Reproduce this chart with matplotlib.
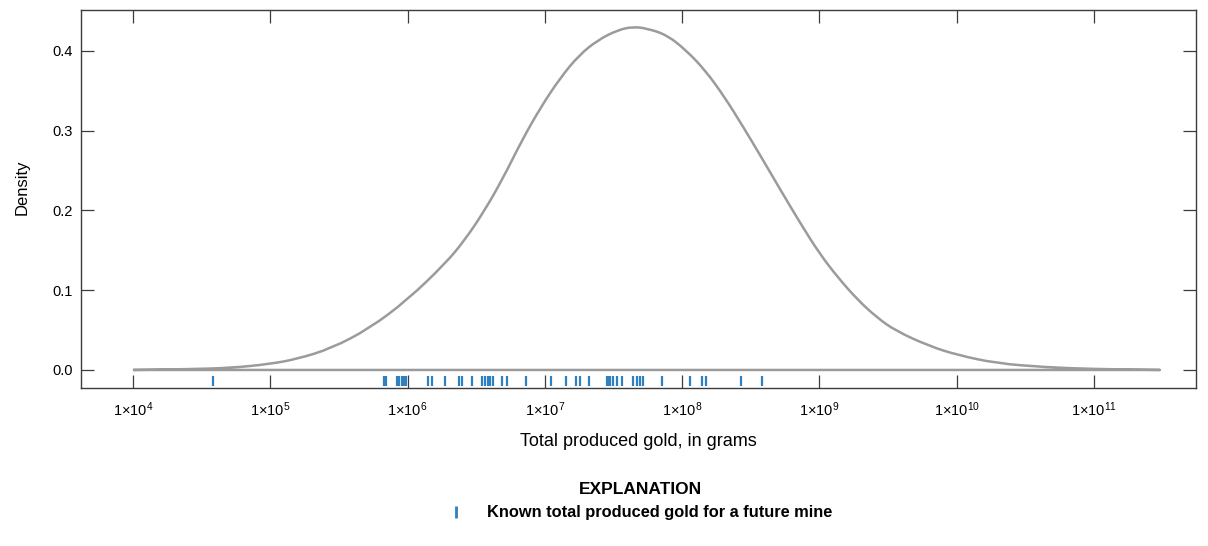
import numpy as np
import matplotlib
matplotlib.use('Agg')
import matplotlib.pyplot as plt
from matplotlib.lines import Line2D
from matplotlib.path import Path
from matplotlib.patches import PathPatch
from matplotlib.ticker import FixedLocator, NullLocator, FuncFormatter

# density curve of total produced gold (log10 grams, density)
curveLog10 = [4.00, 4.40, 4.71, 5.00, 5.20, 5.444, 5.722, 6.000, 6.278, 6.417,
              6.556, 6.694, 6.833, 6.972, 7.111, 7.250, 7.389, 7.528, 7.639,
              7.750, 7.889, 8.028, 8.167, 8.306, 8.444, 8.583, 8.722, 8.861,
              9.000, 9.139, 9.278, 9.417, 9.556, 9.80, 10.00, 10.29, 10.65,
              10.99, 11.48]
curveDensity = [0.0, 0.001, 0.0025, 0.0075, 0.014, 0.027, 0.052, 0.088, 0.134, 0.163,
                0.1985, 0.240, 0.288, 0.330, 0.366, 0.395, 0.414, 0.426, 0.4305,
                0.428, 0.420, 0.401, 0.376, 0.343, 0.305, 0.265, 0.224, 0.184,
                0.146, 0.115, 0.088, 0.066, 0.049, 0.030, 0.019, 0.0083, 0.0034,
                0.0012, 0.0]

# known total produced gold, in grams (log10)
knownLog10 = [4.585, 5.828, 5.843, 5.925, 5.940, 5.957, 5.974, 5.988, 6.151, 6.176,
              6.272, 6.374, 6.394, 6.467, 6.540, 6.564, 6.588, 6.600, 6.624, 6.685,
              6.722, 6.862, 7.044, 7.154, 7.227, 7.256, 7.323, 7.450, 7.462, 7.474,
              7.494, 7.523, 7.559, 7.639, 7.669, 7.693, 7.717, 7.851, 8.057, 8.142,
              8.173, 8.426, 8.579]

xTickExp = [4, 5, 6, 7, 8, 9, 10, 11]
yTicks = [0.0, 0.1, 0.2, 0.3, 0.4]

curveColor = '#9b9b9b'
rugColor = '#2f80c0'
frameColor = '#3c3c3c'


def smoothOutline(xs, ys):
    # quadratic bezier through the midpoints, using the points as controls;
    # x midpoints are geometric since the axis is logarithmic
    verts = [(xs[0], ys[0])]
    codes = [Path.MOVETO]
    mids = [(np.sqrt(xs[i] * xs[i + 1]), 0.5 * (ys[i] + ys[i + 1])) for i in range(len(xs) - 1)]
    verts.append(mids[0])
    codes.append(Path.LINETO)
    for i in range(1, len(xs) - 1):
        verts += [(xs[i], ys[i]), mids[i]]
        codes += [Path.CURVE3, Path.CURVE3]
    verts.append((xs[-1], ys[-1]))
    codes.append(Path.LINETO)
    # back along the zero line
    verts.append((xs[0], 0.0))
    codes.append(Path.LINETO)
    return Path(verts, codes)


plt.rcParams['font.family'] = ['Liberation Sans', 'DejaVu Sans']
plt.rcParams['mathtext.fontset'] = 'custom'
plt.rcParams['mathtext.rm'] = 'Liberation Sans'
plt.rcParams['mathtext.it'] = 'Liberation Sans'

fig = plt.figure(figsize=(12.08, 5.46), dpi=100)
ax = fig.add_axes([0.067, 0.2894, 0.923, 0.6923])

xCurve = np.power(10.0, curveLog10)
ax.add_patch(PathPatch(smoothOutline(xCurve, curveDensity), fill=False,
                       edgecolor=curveColor, lw=1.8, joinstyle='round'))

xKnown = np.power(10.0, knownLog10)
ax.vlines(xKnown, 0.005, 0.032, transform=ax.get_xaxis_transform(),
          color=rugColor, lw=1.6)

ax.set_xscale('log')
ax.set_xlim(10 ** 3.621, 10 ** 11.742)
ax.set_ylim(-0.0226, 0.4514)

ax.xaxis.set_major_locator(FixedLocator([10.0 ** e for e in xTickExp]))
ax.xaxis.set_minor_locator(NullLocator())
ax.xaxis.set_major_formatter(FuncFormatter(
    lambda v, pos: r'$\mathregular{1{\times}10^{%d}}$' % int(round(np.log10(v)))))
ax.set_yticks(yTicks)
ax.yaxis.set_major_formatter(FuncFormatter(lambda v, pos: '%.1f' % v))

ax.tick_params(axis='both', which='major', direction='in', length=9.5, width=0.9,
               color=frameColor, labelsize=10.5, top=True, right=True)
ax.tick_params(axis='x', pad=9)
ax.tick_params(axis='y', pad=6)
for s in ax.spines.values():
    s.set_color(frameColor)
    s.set_linewidth(1.0)

ax.set_xlabel('Total produced gold, in grams', fontsize=13, labelpad=10)
ax.set_ylabel('Density', fontsize=12)
ax.yaxis.set_label_coords(-0.046, 0.53)

handle = Line2D([], [], color=rugColor, marker='|', linestyle='None',
                markersize=8, markeredgewidth=2)
leg = fig.legend([handle], ['Known total produced gold for a future mine'],
                 loc='center', bbox_to_anchor=(0.530, 0.082), frameon=False,
                 title='EXPLANATION', handlelength=1.0, handletextpad=1.4,
                 prop={'weight': 'bold', 'size': 11.8})
leg.get_title().set_fontweight('bold')
leg.get_title().set_fontsize(12.5)

fig.savefig('out.png', dpi=100)
plt.close(fig)
